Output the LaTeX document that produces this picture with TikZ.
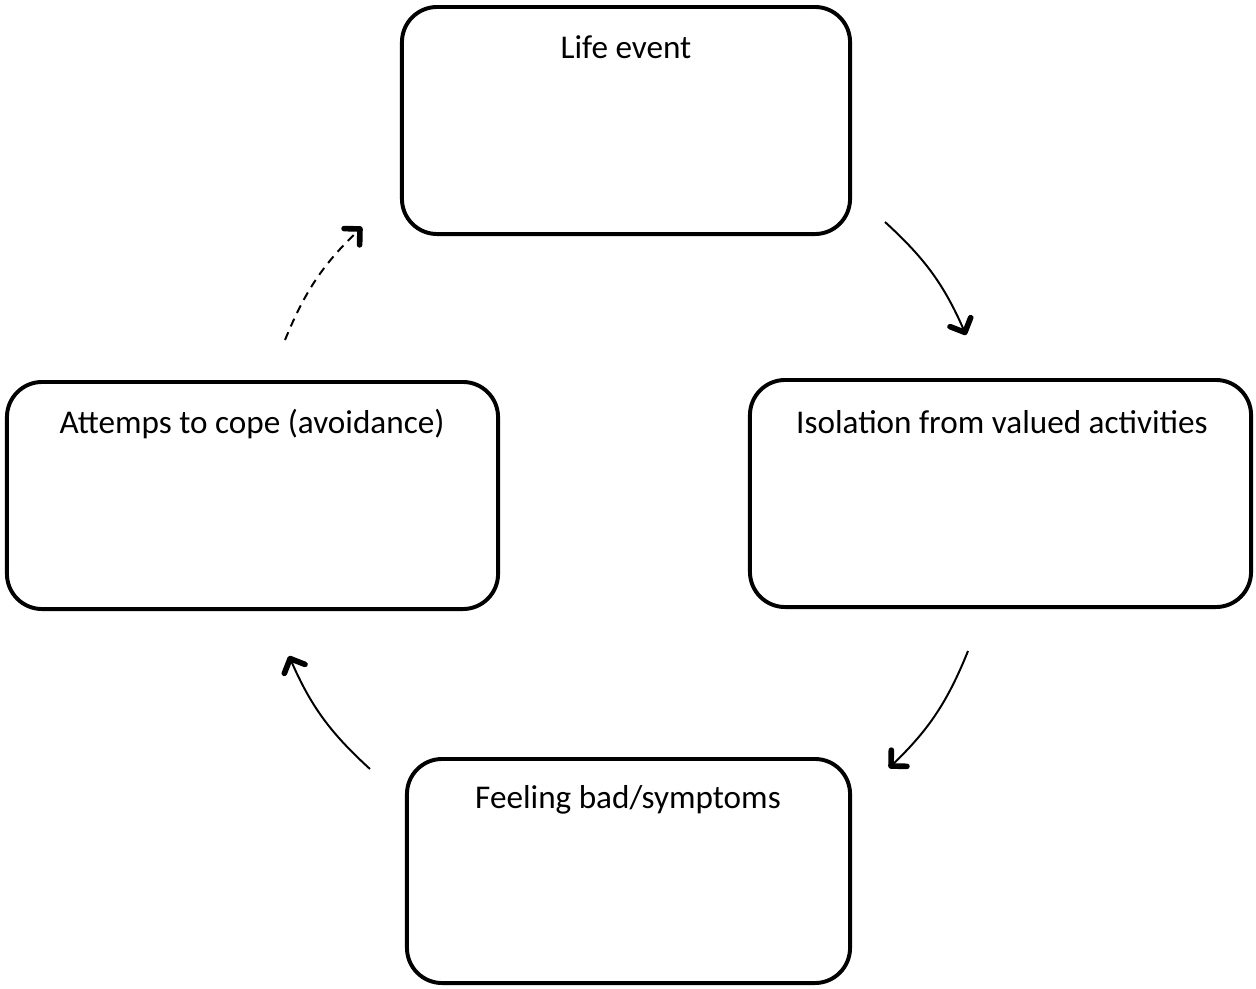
\documentclass[tikz,border=0pt]{standalone}
\usepackage{fontspec}
\setmainfont{Carlito}
\usetikzlibrary{arrows.meta}

\begin{document}
\begin{tikzpicture}[x=0.025cm,y=-0.025cm]
		\tikzset{box/.style = {shape=rectangle,draw,line width=2.8pt,rounded corners=25pt,minimum height=5.675cm,inner sep=0pt}}
		\tikzset{title/.style = {font=\fontsize{23.6}{28}\selectfont,inner sep=0pt}}
		\tikzset{edge/.style = {-{Straight Barb[length=8pt,width=16pt,line width=4pt,round]},line width=1.4pt,bend left=12}}
		\useasboundingbox (0,0) rectangle (1256,988);
		% boxes
		\node[box, minimum width=11.2cm] (life) at (626,120.5) {};
		\node[box, minimum width=12.525cm] (iso) at (1000.5,493.5) {};
		\node[box, minimum width=11.075cm, minimum height=5.6cm] (feel) at (628.5,871) {};
		\node[box, minimum width=12.275cm] (cope) at (252.5,495.5) {};
		% titles
		\node[title] (lifetext) at (626,47) {Life event};
		\node[title] (isotext) at (1002,422) {Isolation from valued activities};
		\node[title] (feeltext) at (628,800) {Feeling bad/symptoms};
		\node[title] (copetext) at (252,424) {Attemps to cope (avoidance)};
		% arrow ends
		\coordinate (a1) at (885,222);
		\coordinate (b1) at (966,335);
		\coordinate (a2) at (968,651);
		\coordinate (b2) at (889,768);
		\coordinate (a3) at (370,769);
		\coordinate (b3) at (289,656);
		\coordinate (a4) at (285,340);
		\coordinate (b4) at (362,227);
		% edges
		\draw[edge] (a1) to (b1);
		\draw[edge] (a2) to (b2);
		\draw[edge] (a3) to (b3);
		\draw[edge, dashed, dash pattern=on 6pt off 4.5pt] (a4) to (b4);
\end{tikzpicture}
\end{document}
